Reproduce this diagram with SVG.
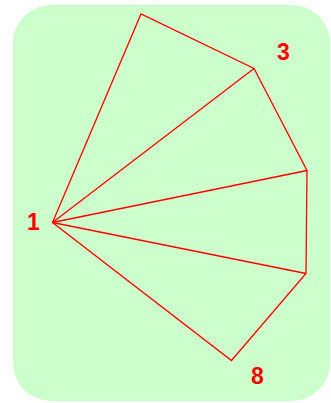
<svg xmlns="http://www.w3.org/2000/svg" width="331" height="403" viewBox="0 0 331 403">
<style>
.edge{stroke:#ff0000;stroke-width:1.3;fill:none;stroke-linejoin:miter}
.lbl{font-family:"Liberation Sans",Arial,sans-serif;font-weight:bold;font-size:23px;fill:#ff0000;text-anchor:middle}
</style>
<rect x="13" y="5" width="317" height="396" rx="38" ry="38" fill="#ccffcc"/>
<g id="connectors">
<polygon class="edge" points="52.5,222.5 141,14 254,68.5 307,170.5 306,273.5 231.5,360.5"/>
<line class="edge" x1="52.5" y1="222.5" x2="254" y2="68.5"/>
<line class="edge" x1="52.5" y1="222.5" x2="307" y2="170.5"/>
<line class="edge" x1="52.5" y1="222.5" x2="306" y2="273.5"/>
</g>
<g id="node1"><text class="lbl" x="33.5" y="229.5">1</text></g>
<g id="node3"><text class="lbl" x="283.5" y="59.5">3</text></g>
<g id="node8"><text class="lbl" x="257.5" y="383.5">8</text></g>
</svg>
